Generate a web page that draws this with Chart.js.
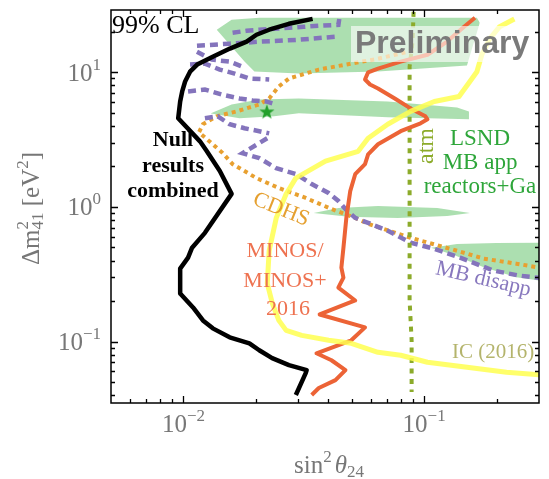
<!DOCTYPE html>
<html>
<head>
<meta charset="utf-8">
<script src="https://cdn.jsdelivr.net/npm/chart.js@4.4.1/dist/chart.umd.min.js"></script>
<style>
  html, body { margin: 0; padding: 0; background: #fff; }
</style>
</head>
<body>
<canvas id="chart" width="549" height="479"></canvas>
<script>
// 99% CL contours in the (sin^2 theta_24, dm^2_41) plane

// null results combined (black)
const nullX = [0.0344, 0.0274, 0.0227, 0.0201, 0.0183, 0.0156, 0.0133, 0.0114, 0.01065, 0.01016, 0.00988, 0.00969, 0.00951, 0.01171, 0.01251, 0.01416, 0.01585, 0.01228, 0.01086, 0.01045, 0.00969, 0.00969, 0.01096, 0.01205, 0.01324, 0.01556, 0.01879, 0.02065, 0.02336, 0.02743, 0.0325, 0.0322, 0.0293];
const nullY = [24.9, 22.9, 20.7, 19.0, 16.9, 15.0, 13.1, 11.4, 10.1, 8.54, 7.20, 6.07, 4.55, 3.07, 2.59, 1.85, 1.25, 0.642, 0.498, 0.420, 0.348, 0.2275, 0.1794, 0.1437, 0.1254, 0.1076, 0.0971, 0.0862, 0.0753, 0.0668, 0.0614, 0.0583, 0.0401];

// MINOS/MINOS+ 2016
const minosX = [0.1626, 0.1465, 0.1246, 0.1032, 0.0799, 0.0643, 0.0585, 0.0568, 0.0596, 0.0643, 0.0755, 0.0878, 0.1012, 0.1032, 0.0966, 0.0799, 0.0643, 0.0585, 0.0568, 0.0517, 0.0493, 0.0475, 0.0462, 0.0453, 0.0462, 0.0440, 0.0517, 0.0368, 0.0568, 0.0498, 0.0357, 0.0412, 0.0471, 0.0428, 0.0365, 0.0341];
const minosY = [25.4, 21.8, 16.9, 13.5, 12.0, 10.65, 10.0, 8.83, 8.11, 7.58, 6.39, 5.39, 4.71, 4.47, 4.18, 3.65, 2.92, 2.46, 2.08, 1.75, 1.31, 0.829, 0.498, 0.354, 0.2987, 0.252, 0.202, 0.159, 0.1276, 0.1022, 0.0819, 0.0727, 0.0614, 0.0518, 0.0452, 0.0401];

// IceCube 2016
const icX = [0.237, 0.2058, 0.1872, 0.1736, 0.1656, 0.1549, 0.1396, 0.1102, 0.0878, 0.0706, 0.0585, 0.0532, 0.0389, 0.0293, 0.0267, 0.0243, 0.0227, 0.0223, 0.0234, 0.0249, 0.0267, 0.0310, 0.0401, 0.0498, 0.0643, 0.0799, 0.1032, 0.1507, 0.2198, 0.318];
const icY = [24.9, 21.8, 17.7, 13.5, 10.1, 8.54, 6.61, 6.07, 5.12, 4.11, 3.24, 2.59, 2.19, 1.638, 1.248, 0.829, 0.473, 0.270, 0.192, 0.1437, 0.1212, 0.1113, 0.1022, 0.0971, 0.0833, 0.0792, 0.0703, 0.0646, 0.0593, 0.0562];

// CDHS
const cdhsX = [0.09, 0.0643, 0.0498, 0.0365, 0.0274, 0.0249, 0.0227, 0.0207, 0.0166, 0.01375, 0.01205, 0.0116, 0.01324, 0.01456, 0.0160, 0.0201, 0.0249, 0.0322, 0.0412, 0.0517, 0.0585, 0.0878, 0.1282, 0.1770, 0.2415, 0.318];
const cdhsY = [14.5, 12.6, 11.6, 10.47, 8.98, 7.84, 6.39, 5.77, 5.12, 4.71, 4.11, 3.58, 2.92, 2.51, 2.08, 1.638, 1.382, 1.166, 0.966, 0.829, 0.749, 0.590, 0.489, 0.413, 0.379, 0.348];

// MiniBooNE disappearance, main branch plus the islands at large dm^2
const mbX = [0.02228, 0.01759, 0.02066, 0.02427, 0.02931, 0.0341, 0.04006, 0.04403, 0.04706, 0.05171, 0.05848, 0.07066, 0.08784, 0.1102, 0.1410, 0.1944, 0.2487, 0.318];
const mbY = [3.236, 2.507, 2.302, 1.942, 1.754, 1.479, 1.269, 1.107, 0.966, 0.829, 0.762, 0.665, 0.542, 0.489, 0.420, 0.3365, 0.309, 0.2937];
const mbX1 = [0.01600, 0.01827, 0.02066, 0.02380, 0.02745, 0.03162, 0.03643, 0.04403, 0.04446];
const mbY1 = [19.65, 20.33, 20.68, 21.04, 21.40, 21.77, 22.14, 22.52, 25.37];
const mbX2 = [0.01138, 0.01555, 0.02066, 0.03016, 0.04280];
const mbY2 = [15.75, 16.30, 16.87, 17.44, 18.36];
const mbX3 = [0.01138, 0.01312, 0.01555, 0.01793];
const mbY3 = [14.22, 12.41, 12.00, 10.83];
const mbX4 = [0.01065, 0.01228, 0.01415, 0.01631, 0.01879, 0.02271];
const mbY4 = [11.40, 11.60, 10.47, 9.78, 8.98, 8.83];
const mbX5 = [0.01045, 0.01228, 0.01442, 0.01710, 0.01934, 0.02208, 0.02427];
const mbY5 = [7.20, 7.45, 6.84, 6.39, 6.18, 6.07, 5.77];
const mbX6 = [0.01228, 0.01389, 0.01555, 0.01793, 0.02066, 0.02271];
const mbY6 = [4.55, 4.71, 4.11, 3.84, 3.65, 3.52];

// atmospheric
const atmX = [0.0904, 0.0895, 0.0870, 0.0870, 0.0870, 0.0870, 0.0887, 0.0887];
const atmY = [28.1, 16.9, 11.02, 5.12, 1.107, 0.202, 0.1022, 0.0422];

// LSND + MB app + reactors + Ga allowed islands (upper / lower edges)
const band1UpX = [0.01375, 0.01585, 0.02066, 0.05321, 0.1656, 0.1703];
const band1UpY = [20.68, 24.52, 25.37, 25.37, 25.37, 23.30];
const band1LoX = [0.01375, 0.01585, 0.01793, 0.01971, 0.03016, 0.06428, 0.1506, 0.1703];
const band1LoY = [20.68, 15.49, 12.00, 10.12, 9.80, 10.12, 11.21, 23.30];
const band2UpX = [0.01300, 0.01585, 0.02066, 0.03016, 0.07066, 0.1370, 0.1535];
const band2UpY = [4.953, 5.77, 6.284, 6.39, 6.073, 5.48, 5.124];
const band2LoX = [0.01300, 0.01710, 0.02380, 0.03016, 0.07066, 0.1535];
const band2LoY = [4.953, 4.55, 4.71, 4.953, 4.63, 4.47];
const band3UpX = [0.03476, 0.04403, 0.06428, 0.1134, 0.1549];
const band3UpY = [0.903, 0.983, 1.017, 0.983, 0.903];
const band3LoX = [0.03476, 0.04841, 0.07768, 0.1247, 0.1549];
const band3LoY = [0.903, 0.844, 0.829, 0.858, 0.903];
const band4UpX = [0.1068, 0.1370, 0.2000, 0.318];
const band4UpY = [0.498, 0.530, 0.540, 0.542];
const band4LoX = [0.1068, 0.1330, 0.1769, 0.2416, 0.318];
const band4LoY = [0.498, 0.440, 0.3560, 0.3000, 0.2800];

// best fit
const bestX = [0.0222];
const bestY = [5.12];

// axis ticks (powers of ten that get a label)
const xTickExps = [-2, -1];
const yTickExps = [-1, 0, 1];

const SERIF = '"Liberation Serif", "Times New Roman", serif';
const GREEN = 'rgba(70, 185, 80, 0.45)';
const NONE = 'rgba(0,0,0,0)';

function pts(xs, ys) {
  return xs.map((x, i) => ({ x: x, y: ys[i] }));
}

function curve(xs, ys, color, width, dash, extra) {
  return Object.assign({
    data: pts(xs, ys),
    showLine: true,
    borderColor: color,
    borderWidth: width,
    borderDash: dash || [],
    borderJoinStyle: dash ? 'miter' : 'round',
    borderCapStyle: 'butt',
    pointRadius: 0,
    fill: false,
    tension: 0
  }, extra || {});
}

function band(upX, upY, loX, loY) {
  return [
    curve(upX, upY, NONE, 1),
    curve(loX, loY, NONE, 1, null, { fill: '-1', backgroundColor: GREEN })
  ];
}

// filled green star for the best fit point
const star = document.createElement('canvas');
star.width = 18;
star.height = 18;
(function () {
  const sc = star.getContext('2d');
  sc.fillStyle = '#22a02a';
  sc.beginPath();
  for (let i = 0; i < 10; i++) {
    const r = i % 2 ? 3.2 : 8;
    const a = -Math.PI / 2 + i * Math.PI / 5;
    sc.lineTo(9 + r * Math.cos(a), 9.8 + r * Math.sin(a));
  }
  sc.closePath();
  sc.fill();
})();

const PURPLE = '#8474bc';
const mbDash = [8, 5];

const datasets = [
  { data: pts(bestX, bestY), pointStyle: star, pointRadius: 9, showLine: false },
  curve(nullX, nullY, '#000000', 4.5),
  curve(icX, icY, 'rgba(255, 255, 80, 0.85)', 5),
  curve(minosX, minosY, '#ec6336', 4),
  curve(atmX, atmY, '#8cab2a', 4, [5, 5.5]),
  curve(mbX, mbY, PURPLE, 4.5, mbDash),
  curve(mbX1, mbY1, PURPLE, 4.5, mbDash),
  curve(mbX2, mbY2, PURPLE, 4.5, mbDash),
  curve(mbX3, mbY3, PURPLE, 4.5, mbDash),
  curve(mbX4, mbY4, PURPLE, 4.5, mbDash),
  curve(mbX5, mbY5, PURPLE, 4.5, mbDash),
  curve(mbX6, mbY6, PURPLE, 4.5, mbDash),
  curve(cdhsX, cdhsY, '#e8a030', 4, [4, 4])
].concat(
  band(band1UpX, band1UpY, band1LoX, band1LoY),
  band(band2UpX, band2UpY, band2LoX, band2LoY),
  band(band3UpX, band3UpY, band3LoX, band3LoY),
  band(band4UpX, band4UpY, band4LoX, band4LoY)
);

function font(size, p) {
  return (p && p.italic ? 'italic ' : '') + (p && p.bold ? 'bold ' : '') + size + 'px ' + SERIF;
}

function partWidth(ctx, p) {
  if (p.sup !== undefined) {
    ctx.font = font(p.small);
    return Math.max(ctx.measureText(p.sup).width, ctx.measureText(p.sub).width);
  }
  ctx.font = font(p.size, p);
  return ctx.measureText(p.t).width;
}

// text with superscripts/subscripts, parts laid out left to right
function drawParts(ctx, parts, x, y, align) {
  const widths = parts.map(p => partWidth(ctx, p) + (p.gap || 0));
  const total = widths.reduce((a, b) => a + b, 0);
  let cx = align === 'right' ? x - total : align === 'center' ? x - total / 2 : x;
  ctx.textAlign = 'left';
  ctx.textBaseline = 'alphabetic';
  parts.forEach((p, i) => {
    if (p.sup !== undefined) {
      ctx.font = font(p.small);
      ctx.fillText(p.sup, cx, y - p.up);
      ctx.fillText(p.sub, cx, y + p.down);
    } else {
      ctx.font = font(p.size, p);
      ctx.fillText(p.t, cx, y + (p.dy || 0));
    }
    cx += widths[i];
  });
}

function expLabel(e) {
  return [{ t: '10', size: 25 }, { t: e < 0 ? '\u2212' + (-e) : String(e), size: 17, dy: -11 }];
}

function rotatedText(ctx, text, x, y, deg, f, color) {
  ctx.save();
  ctx.translate(x, y);
  ctx.rotate(deg * Math.PI / 180);
  ctx.font = f;
  ctx.fillStyle = color;
  ctx.textAlign = 'center';
  ctx.textBaseline = 'alphabetic';
  ctx.fillText(text, 0, 0);
  ctx.restore();
}

const decorations = {
  id: 'decorations',
  afterDatasetsDraw(chart) {
    const ctx = chart.ctx;
    const a = chart.chartArea;
    const sx = chart.scales.x;
    const sy = chart.scales.y;

    ctx.save();

    // Preliminary stamp
    ctx.fillStyle = 'rgba(255, 255, 255, 0.62)';
    ctx.fillRect(351, 26, 186, 36);
    ctx.font = 'bold 32px "Liberation Sans", Arial, sans-serif';
    ctx.fillStyle = '#7a7a7a';
    ctx.textAlign = 'left';
    ctx.textBaseline = 'alphabetic';
    ctx.fillText('Preliminary', 355, 53);

    // frame and ticks on all four sides
    ctx.strokeStyle = '#000';
    ctx.lineWidth = 1.5;
    ctx.strokeRect(a.left, a.top, a.right - a.left, a.bottom - a.top);
    ctx.lineWidth = 1.3;
    ctx.beginPath();
    for (let e = -3; e <= 1; e++) {
      for (let m = 1; m <= 9; m++) {
        const v = m * Math.pow(10, e);
        const len = m === 1 ? 7 : 4;
        if (v > sx.min * 1.001 && v < sx.max * 0.999) {
          const px = Math.round(sx.getPixelForValue(v)) + 0.5;
          ctx.moveTo(px, a.bottom); ctx.lineTo(px, a.bottom - len);
          ctx.moveTo(px, a.top); ctx.lineTo(px, a.top + len);
        }
        if (v > sy.min * 1.001 && v < sy.max * 0.999) {
          const py = Math.round(sy.getPixelForValue(v)) + 0.5;
          ctx.moveTo(a.left, py); ctx.lineTo(a.left + len, py);
          ctx.moveTo(a.right, py); ctx.lineTo(a.right - len, py);
        }
      }
    }
    ctx.stroke();

    // tick labels
    ctx.fillStyle = '#777';
    xTickExps.forEach(e => {
      drawParts(ctx, expLabel(e), sx.getPixelForValue(Math.pow(10, e)), 432, 'center');
    });
    yTickExps.forEach(e => {
      drawParts(ctx, expLabel(e), 101, sy.getPixelForValue(Math.pow(10, e)) + 8.5, 'right');
    });

    // axis titles
    drawParts(ctx, [
      { t: 'sin', size: 25 },
      { t: '2', size: 17, dy: -11, gap: 3 },
      { t: '\u03b8', size: 25, italic: true },
      { t: '24', size: 17, dy: 4 }
    ], 329, 473, 'center');
    ctx.save();
    ctx.translate(39, (a.top + a.bottom) / 2 + 2);
    ctx.rotate(-Math.PI / 2);
    drawParts(ctx, [
      { t: '\u0394m', size: 25 },
      { sup: '2', sub: '41', small: 17, up: 11, down: 4 },
      { t: ' [eV', size: 25 },
      { t: '2', size: 17, dy: -11 },
      { t: ']', size: 25 }
    ], 0, 0, 'center');
    ctx.restore();

    // annotations
    ctx.fillStyle = '#000';
    ctx.textAlign = 'left';
    ctx.font = '26px ' + SERIF;
    ctx.fillText('99% CL', 112, 33);

    ctx.textAlign = 'center';
    ctx.font = 'bold 22px ' + SERIF;
    ctx.fillText('Null', 173, 146);
    ctx.fillText('results', 173, 172);
    ctx.fillText('combined', 173, 197);

    ctx.font = '22px ' + SERIF;
    ctx.fillStyle = '#ee7250';
    ctx.fillText('MINOS/', 285, 257);
    ctx.fillText('MINOS+', 285, 287);
    ctx.fillText('2016', 288, 315);

    ctx.font = '23px ' + SERIF;
    ctx.fillStyle = '#2ea63a';
    ctx.fillText('LSND', 480, 145);
    ctx.fillText('MB app', 480, 169);
    ctx.fillText('reactors+Ga', 480, 193);

    ctx.font = '21px ' + SERIF;
    ctx.fillStyle = '#b4b46c';
    ctx.fillText('IC (2016)', 493, 358);

    rotatedText(ctx, 'CDHS', 279, 215, 22, '22px ' + SERIF, '#e5a030');
    rotatedText(ctx, 'MB disapp', 482, 285, 13, '22px ' + SERIF, '#8878be');
    rotatedText(ctx, 'atm', 433, 146, -90, '24px ' + SERIF, '#8cab2a');

    ctx.restore();
  }
};

new Chart(document.getElementById('chart'), {
  type: 'scatter',
  data: { datasets: datasets },
  options: {
    responsive: false,
    animation: false,
    devicePixelRatio: 1,
    events: [],
    layout: { padding: { left: 111, right: 6, top: 8, bottom: 76 } },
    plugins: {
      legend: { display: false },
      tooltip: { enabled: false }
    },
    scales: {
      x: { type: 'logarithmic', min: 0.005, max: 0.3, display: false },
      y: { type: 'logarithmic', min: 0.035, max: 29, display: false }
    }
  },
  plugins: [decorations]
});
</script>
</body>
</html>
